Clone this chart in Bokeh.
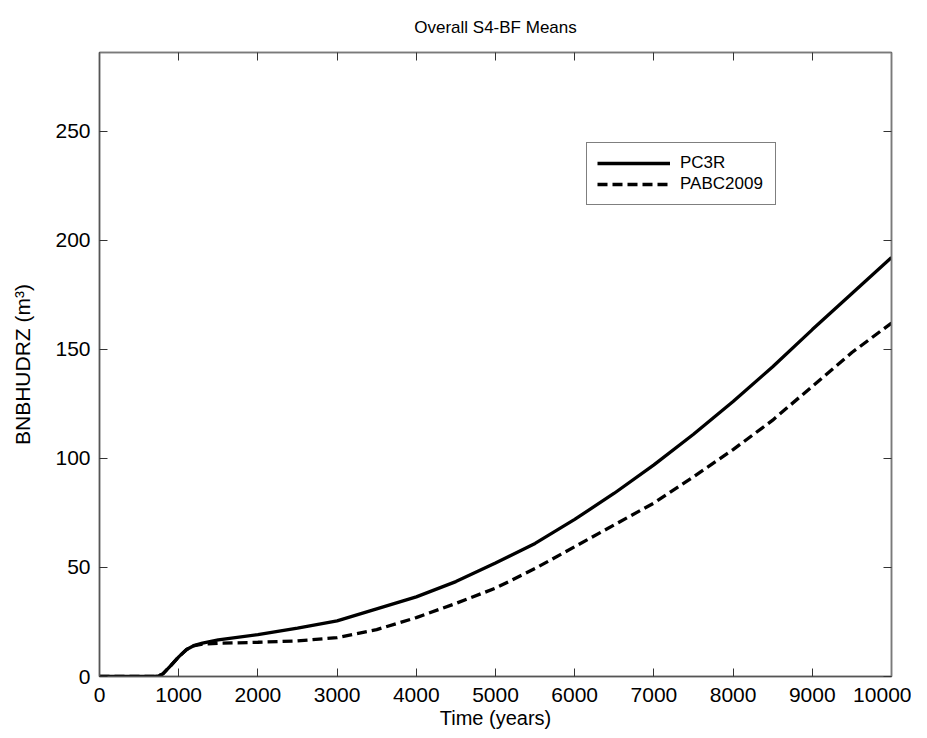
from bokeh.plotting import figure
from bokeh.models import LinearAxis, Range1d, FixedTicker, Legend, LegendItem
from bokeh.embed import file_html
from bokeh.resources import INLINE

time_pc3r = [0, 600, 700, 750, 800, 900, 1000, 1100, 1200, 1300, 1500, 2000, 2500, 3000,
             3500, 4000, 4500, 5000, 5500, 6000, 6500, 7000, 7500, 8000, 8500, 9000,
             9500, 10000]
pc3r = [0, 0, 0, 0.3, 1.2, 5, 9, 12.4, 14.3, 15.3, 16.8, 19.2, 22.2, 25.5,
        31, 36.5, 43.5, 52, 61, 72, 84, 97, 111, 126, 142, 159, 175.5, 192]

time_pabc = [0, 600, 700, 750, 800, 900, 1000, 1100, 1200, 1300, 1500, 2000, 2500, 3000,
             3500, 4000, 4500, 5000, 5500, 6000, 6500, 7000, 7500, 8000, 8500, 9000,
             9500, 10000]
pabc = [0, 0, 0, 0.3, 1.2, 5, 9, 12.4, 14.2, 14.8, 15.2, 15.7, 16.3, 17.8,
        21.5, 27, 33.5, 40.5, 49.5, 59.5, 69.5, 79.5, 91.5, 104, 117.5, 133, 148.5, 162]

x_ticks = [0, 1000, 2000, 3000, 4000, 5000, 6000, 7000, 8000, 9000, 10000]
y_ticks = [0, 50, 100, 150, 200, 250]

FONT = "Liberation Sans"

p = figure(frame_width=792, frame_height=624, output_backend="svg", toolbar_location=None,
           x_range=Range1d(0, 10000), y_range=Range1d(0, 286),
           min_border_left=99, min_border_right=20, min_border_top=0, min_border_bottom=55,
           x_axis_type=None, y_axis_type=None)
p.xgrid.visible = False
p.ygrid.visible = False
p.outline_line_color = "#7a7a7a"
p.outline_line_width = 1.5
p.background_fill_color = "white"
p.border_fill_color = "white"

p.title.text = "Overall S4-BF Means"
p.title.align = "center"
p.title.text_font = FONT
p.title.text_font_size = "17px"
p.title.text_font_style = "normal"
p.title.text_color = "black"
p.title.standoff = 31


def style_axis(ax, ticks, show_labels=True):
    ax.ticker = FixedTicker(ticks=ticks)
    ax.major_tick_in = 8
    ax.major_tick_out = 0
    ax.minor_tick_line_color = None
    ax.axis_line_color = "#555555"
    ax.axis_line_width = 1.5
    ax.major_tick_line_color = "#333333"
    ax.major_label_text_font = FONT
    ax.major_label_text_font_size = "21px"
    ax.major_label_text_color = "black"
    ax.axis_label_text_font = FONT
    ax.axis_label_text_font_style = "normal"
    ax.axis_label_text_font_size = "20px"
    ax.axis_label_text_color = "black"
    if not show_labels:
        ax.major_label_text_font_size = "1px"
        ax.major_label_text_color = None
        ax.major_label_standoff = 0
        ax.axis_line_color = "#7a7a7a"


xb = LinearAxis(axis_label="Time (years)")
style_axis(xb, x_ticks)
xb.major_label_standoff = 11
xb.axis_label_standoff = 2
p.add_layout(xb, "below")

xt = LinearAxis()
style_axis(xt, x_ticks, show_labels=False)
p.add_layout(xt, "above")

yl = LinearAxis(axis_label="BNBHUDRZ (m³)")
style_axis(yl, y_ticks)
yl.major_label_standoff = 9
yl.axis_label_standoff = 18
yl.axis_label_text_font_size = "21px"
p.add_layout(yl, "left")

yr = LinearAxis()
style_axis(yr, y_ticks, show_labels=False)
p.add_layout(yr, "right")

r1 = p.line(time_pc3r, pc3r, line_color="black", line_width=3.3)
r2 = p.line(time_pabc, pabc, line_color="black", line_width=3.3, line_dash="10 5")

legend = Legend(items=[LegendItem(label="PC3R", renderers=[r1]),
                       LegendItem(label="PABC2009", renderers=[r2])],
                location=(487, 471))
legend.label_text_font = FONT
legend.label_text_font_size = "17px"
legend.label_text_color = "black"
legend.label_width = 85
legend.glyph_width = 73
legend.glyph_height = 20
legend.label_standoff = 10
legend.padding = 10
legend.spacing = 1
legend.margin = 0
legend.border_line_color = "black"
legend.border_line_width = 1.2
legend.background_fill_color = "white"
legend.background_fill_alpha = 1
p.add_layout(legend, "center")

open("out.html", "w").write(file_html(p, INLINE))
